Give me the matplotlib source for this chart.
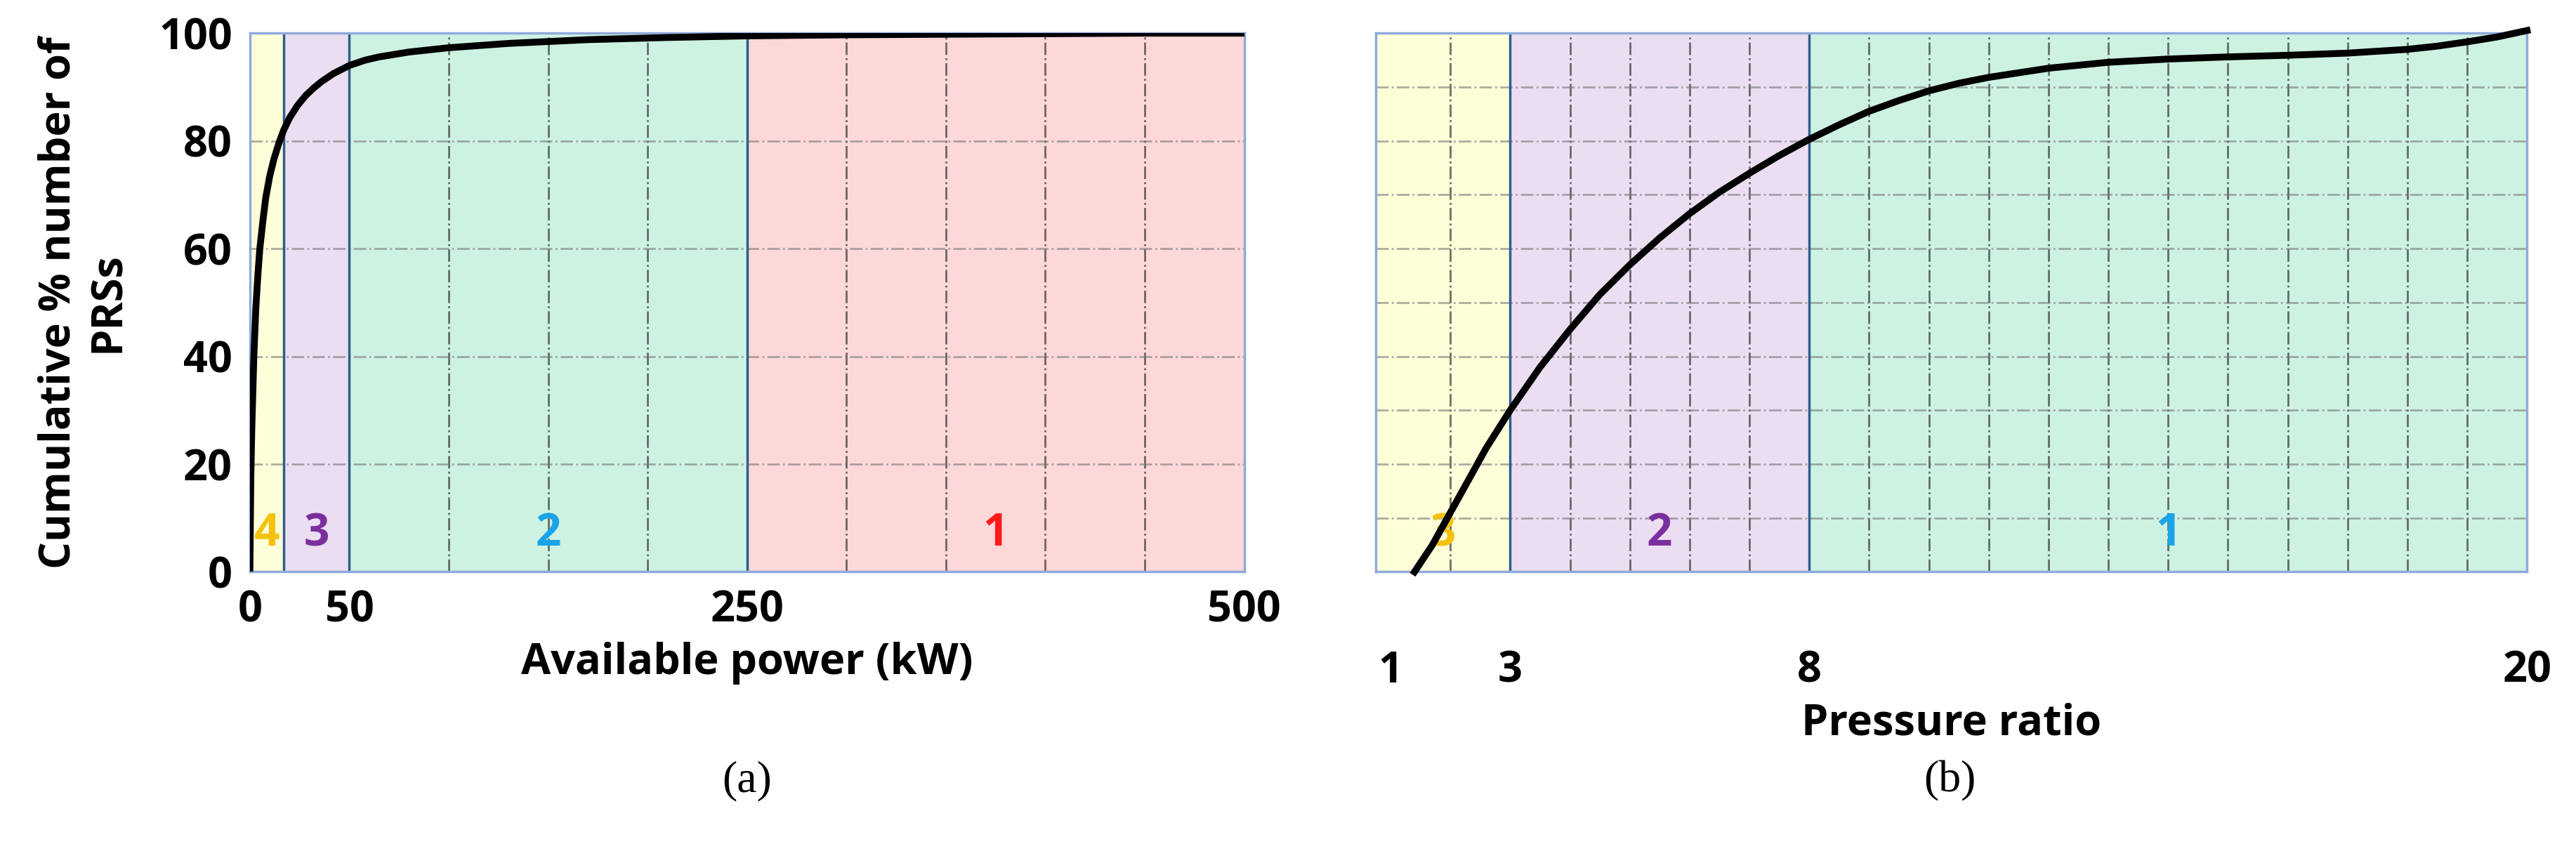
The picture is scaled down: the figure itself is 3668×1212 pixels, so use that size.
import numpy as np
import matplotlib
matplotlib.use('Agg')
import matplotlib.pyplot as plt

plt.rcParams['font.family'] = ['Open Sans', 'DejaVu Sans']

# panel (a): cumulative % vs available power (kW)
power_kw = [0, 0.5, 1, 2, 3, 4, 5, 6.5, 8, 10, 12, 14.5, 17, 20, 24, 28, 32,
            36, 42, 50, 58, 65, 80, 100, 130, 170, 210, 250, 300, 350, 400,
            450, 500]
cum_a = [0, 18, 27, 40, 49, 55, 60, 65, 69.5, 73.5, 76.5, 79.5, 82, 84.3,
         86.6, 88.4, 89.8, 91, 92.5, 94, 95, 95.6, 96.5, 97.3, 98.1, 98.8,
         99.2, 99.5, 99.7, 99.8, 99.9, 100, 100]
bounds_a = [0, 17, 50, 250, 500]
zone_lbl_a = ['4', '3', '2', '1']

# panel (b): cumulative % vs pressure ratio
ratio = [1.4, 1.7, 2.0, 2.3, 2.6, 3.0, 3.5, 4, 4.5, 5, 5.5, 6, 6.5, 7, 7.5,
         8, 8.5, 9, 9.5, 10, 10.5, 11, 12, 13, 14, 15, 16, 17, 18, 18.5, 19,
         19.5, 20]
cum_b = [0, 5, 11, 17, 23, 30, 38, 45, 51.5, 57, 62, 66.5, 70.5, 74, 77.3,
         80.3, 83, 85.5, 87.5, 89.3, 90.7, 91.8, 93.5, 94.6, 95.2, 95.6, 95.9,
         96.3, 97.0, 97.6, 98.4, 99.3, 100.5]
bounds_b = [0.75, 3, 8, 20]
zone_lbl_b = ['3', '2', '1']

fill = {'4': '#fefed9', '3': '#ecdef2', '2': '#cdf2e2', '1': '#fdd8d9'}
num_col = {'4': '#f4c20d', '3': '#7b2f9e', '2': '#1aa3e8', '1': '#ff1a1a'}
num_col_b = {'3': '#f4c20d', '2': '#7b2f9e', '1': '#1aa3e8'}
fill_b = {'3': '#fefed9', '2': '#ecdef2', '1': '#cdf2e2'}

fig = plt.figure(figsize=(36.68, 12.12), dpi=100)
ax1 = fig.add_axes([0.097, 0.328, 0.386, 0.633])
ax2 = fig.add_axes([0.534, 0.328, 0.447, 0.633])


def zones(ax, bounds, labels, fills, cols, ylab=7):
    for lo, hi, lb in zip(bounds[:-1], bounds[1:], labels):
        ax.axvspan(lo, hi, color=fills[lb], zorder=0, lw=0)
        ax.text((lo + hi) / 2, ylab, lb, color=cols[lb], fontsize=46,
                fontweight='bold', ha='center', va='center', zorder=3)
    for b in bounds[1:-1]:
        ax.axvline(b, color='#2f5d8a', lw=2.5, zorder=2)
    for s in ax.spines.values():
        s.set_color('#8faadc')
        s.set_linewidth(2.5)
    ax.set_ylim(0, 100)


zones(ax1, bounds_a, zone_lbl_a, fill, num_col)
ax1.set_xlim(0, 500)
for gx in range(100, 500, 50):
    if gx != 250:
        ax1.axvline(gx, color='#333333', lw=2, ls='-.', alpha=0.7, zorder=1)
for gy in range(20, 100, 20):
    ax1.axhline(gy, color='#777777', lw=2, ls='-.', alpha=0.6, zorder=1)
ax1.plot(power_kw, cum_a, color='black', lw=7, zorder=4, solid_joinstyle='round')
ax1.set_xticks([0, 50, 250, 500])
ax1.set_yticks(range(0, 101, 20))
ax1.tick_params(length=0, labelsize=44, pad=18)
for t in ax1.get_xticklabels() + ax1.get_yticklabels():
    t.set_fontweight('bold')
ax1.set_xlabel('Available power (kW)', fontsize=44, fontweight='bold', labelpad=10)
ax1.set_ylabel('Cumulative % number of\nPRSs', fontsize=44, fontweight='bold',
               labelpad=30)

zones(ax2, bounds_b, zone_lbl_b, fill_b, num_col_b)
ax2.set_xlim(0.75, 20)
for gx in range(2, 20):
    if gx not in (3, 8):
        ax2.axvline(gx, color='#333333', lw=2, ls='-.', alpha=0.7, zorder=1)
for gy in range(10, 100, 10):
    ax2.axhline(gy, color='#777777', lw=2, ls='-.', alpha=0.6, zorder=1)
ax2.plot(ratio, cum_b, color='black', lw=7, zorder=4, clip_on=False,
         solid_joinstyle='round')
ax2.set_xticks([1, 3, 8, 20])
ax2.set_yticks([])
ax2.tick_params(length=0, labelsize=44, pad=80)
for t in ax2.get_xticklabels():
    t.set_fontweight('bold')
ax2.set_xlabel('Pressure ratio', fontsize=44, fontweight='bold', labelpad=10)

for x, lb in ((0.29, 'a'), (0.757, 'b')):
    fig.text(x, 0.07, f'({lb})', fontsize=46, ha='center',
             family='Liberation Serif')
fig.savefig('out.png', dpi=100, facecolor='white')
